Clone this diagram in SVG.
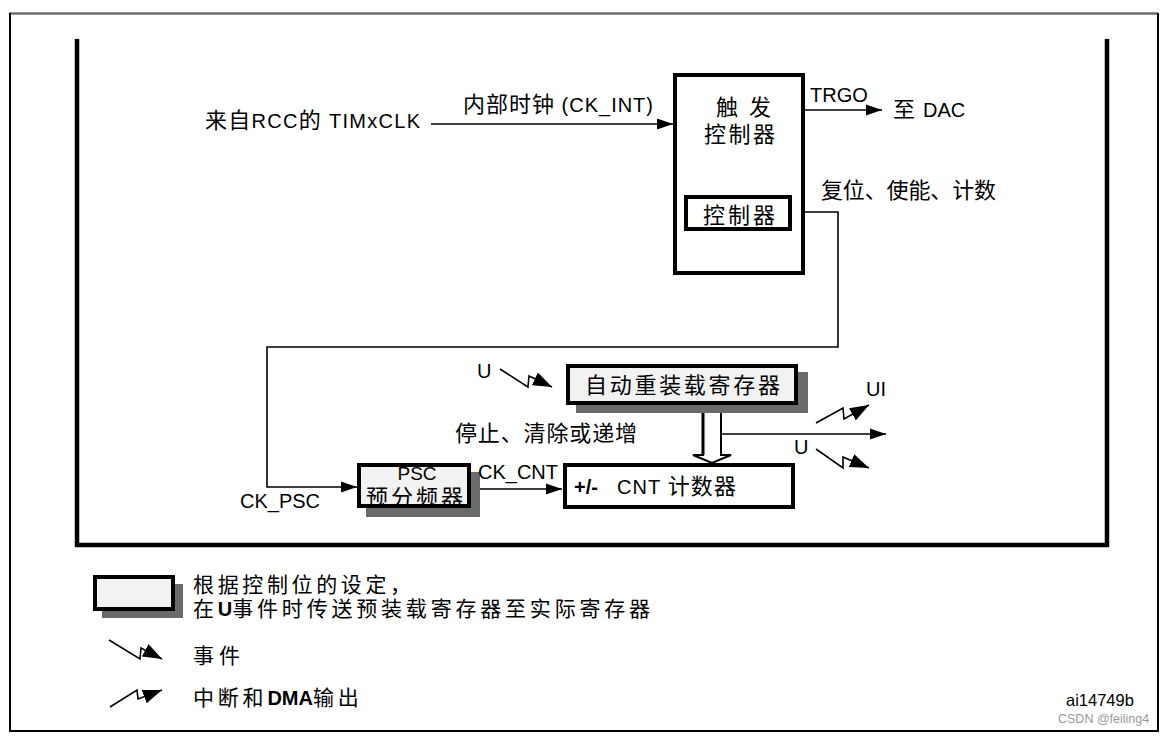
<svg xmlns="http://www.w3.org/2000/svg" width="1166" height="738" viewBox="0 0 1166 738">
<style>
  text { font-family: "Liberation Sans", "Noto Sans CJK SC", sans-serif; font-size: 20px; fill: #000; }
  .c { font-family: "Noto Sans CJK SC", "Liberation Sans", sans-serif; font-size: 22px; }
  .lg { font-size: 21px; }
  .sp { letter-spacing: 3.8px; }
  .b { font-weight: bold; }
  .box { fill: #fff; stroke: #000; stroke-width: 4; }
  .reg { fill: #f2f2f2; stroke: #000; stroke-width: 4; }
  .shadow { fill: #676b6c; }
  .wire { fill: none; stroke: #000; stroke-width: 1.6; }
  .frame { fill: none; stroke: #000; stroke-width: 4.5; }
  .id { font-size: 16.5px; }
  .csdn { font-size: 12.5px; fill: #999; }
  .psc { font-size: 19px; }
</style>
<defs>
  <marker id="ah" markerUnits="userSpaceOnUse" markerWidth="17" markerHeight="12" refX="16" refY="6" orient="auto">
    <path d="M0,0.5 L16,6 L0,11.5 z" fill="#000"/>
  </marker>
  <marker id="ev" markerUnits="userSpaceOnUse" markerWidth="20" markerHeight="14" refX="19" refY="7" orient="auto">
    <path d="M0,0 L19,7 L0,14 z" fill="#000"/>
  </marker>
</defs>
<rect width="1166" height="738" fill="#fff"/>

<!-- outer page frame -->
<g id="page-frame">
  <line x1="9" y1="13.5" x2="1158" y2="13.5" stroke="#6e6e6e" stroke-width="2.5"/>
  <polyline points="10,13 10,731 1158,731 1158,13" fill="none" stroke="#000" stroke-width="2"/>
</g>

<!-- timer boundary -->
<g id="timer-frame">
  <polyline class="frame" points="77,39 77,545 1107,545 1107,39"/>
</g>

<!-- connectors -->
<g id="connectors">
  <line class="wire" x1="431" y1="124" x2="673" y2="124" marker-end="url(#ah)"/>
  <line class="wire" x1="805" y1="110" x2="882" y2="110" marker-end="url(#ah)"/>
  <polyline class="wire" points="792,212 838,212 838,347 267,347 267,487 357,487" marker-end="url(#ah)"/>
  <line class="wire" x1="471" y1="489" x2="562" y2="489" marker-end="url(#ah)"/>
  <polygon points="703,405 703,455 693,455 712,463 731,455 721,455 721,405" fill="#fff" stroke="#000" stroke-width="2"/>
  <line x1="703" y1="405" x2="703" y2="455" stroke="#000" stroke-width="3"/>
  <line class="wire" x1="721" y1="434" x2="886" y2="434" marker-end="url(#ah)"/>
  <polyline class="wire" points="500,369 528,387 529,376 552,387" marker-end="url(#ev)"/>
  <polyline class="wire" points="816,423 843,408 844,419 869,405" marker-end="url(#ev)"/>
  <polyline class="wire" points="816,449 843,468 843,457 869,468" marker-end="url(#ev)"/>
</g>

<!-- input labels -->
<g id="timxclk">
  <text x="205" y="128" textLength="215" lengthAdjust="spacing"><tspan class="c">来自</tspan>RCC<tspan class="c">的</tspan> TIMxCLK</text>
  <text x="463" y="112" textLength="190" lengthAdjust="spacing"><tspan class="c">内部时钟</tspan> (CK_INT)</text>
</g>

<!-- trigger controller -->
<g id="trigger-controller">
  <rect class="box" x="675" y="75" width="128" height="198"/>
  <text class="c" x="716" y="115" textLength="55" lengthAdjust="spacing">触 发</text>
  <text class="c" x="704" y="142" textLength="71" lengthAdjust="spacing">控制器</text>
</g>
<g id="controller">
  <rect class="box" x="686" y="197" width="104" height="32" stroke-width="3.5"/>
  <text class="c" x="703" y="223" textLength="72" lengthAdjust="spacing">控制器</text>
</g>

<g id="trgo">
  <text x="810" y="102">TRGO</text>
  <text class="c" x="893" y="117">至</text>
  <text x="923" y="117">DAC</text>
</g>
<g id="reset-label">
  <text class="c" x="821" y="198" textLength="175" lengthAdjust="spacing">复位、使能、计数</text>
</g>

<!-- auto-reload register -->
<g id="auto-reload">
  <rect class="shadow" x="576" y="372" width="232" height="41"/>
  <rect class="reg" x="568" y="366" width="228" height="37"/>
  <text class="c" x="585" y="393" textLength="195" lengthAdjust="spacing">自动重装载寄存器</text>
</g>
<g id="u-event-in">
  <text x="477" y="378">U</text>
</g>
<g id="ui-out">
  <text x="866" y="396">UI</text>
  <text x="794" y="454">U</text>
</g>
<g id="stop-label">
  <text class="c" x="455" y="441" textLength="182" lengthAdjust="spacing">停止、清除或递增</text>
</g>

<!-- prescaler -->
<g id="psc">
  <rect class="shadow" x="366" y="472" width="114" height="45"/>
  <rect class="reg" x="359" y="465" width="110" height="41"/>
  <text class="psc" x="417" y="480" text-anchor="middle">PSC</text>
  <text class="c" x="366" y="505" textLength="97" lengthAdjust="spacing">预分频器</text>
</g>
<g id="ck-labels">
  <text x="240" y="508">CK_PSC</text>
  <text x="478" y="479">CK_CNT</text>
</g>

<!-- counter -->
<g id="cnt">
  <rect class="box" x="565" y="465" width="228" height="42"/>
  <text x="574" y="494" class="b">+/-</text>
  <text x="617" y="494" textLength="119" lengthAdjust="spacing">CNT <tspan class="c">计数器</tspan></text>
</g>

<!-- legend -->
<g id="legend-preload">
  <rect class="shadow" x="102" y="584" width="81" height="34"/>
  <rect class="reg" x="95" y="577" width="78" height="32"/>
  <text class="c lg" x="193" y="592" textLength="218" lengthAdjust="spacing">根据控制位的设定，</text>
  <text x="193" y="616"><tspan class="c lg sp">在</tspan><tspan class="b">U</tspan><tspan class="c lg sp">事件时传送预装载寄存器至实际寄存器</tspan></text>
</g>
<g id="legend-event">
  <polyline class="wire" points="109,640 140,659 141,648 162,659" marker-end="url(#ev)"/>
  <text class="c lg" x="193" y="663" textLength="47" lengthAdjust="spacing">事件</text>
</g>
<g id="legend-interrupt">
  <polyline class="wire" points="110,707 137,690 138,699 162,690" marker-end="url(#ev)"/>
  <text x="193" y="705"><tspan class="c lg sp">中断和</tspan><tspan class="b">DMA</tspan><tspan class="c lg sp">输出</tspan></text>
</g>

<g id="credits">
  <text class="id" x="1066" y="706">ai14749b</text>
  <text class="csdn" x="1058" y="723">CSDN @feiling4</text>
</g>
</svg>
